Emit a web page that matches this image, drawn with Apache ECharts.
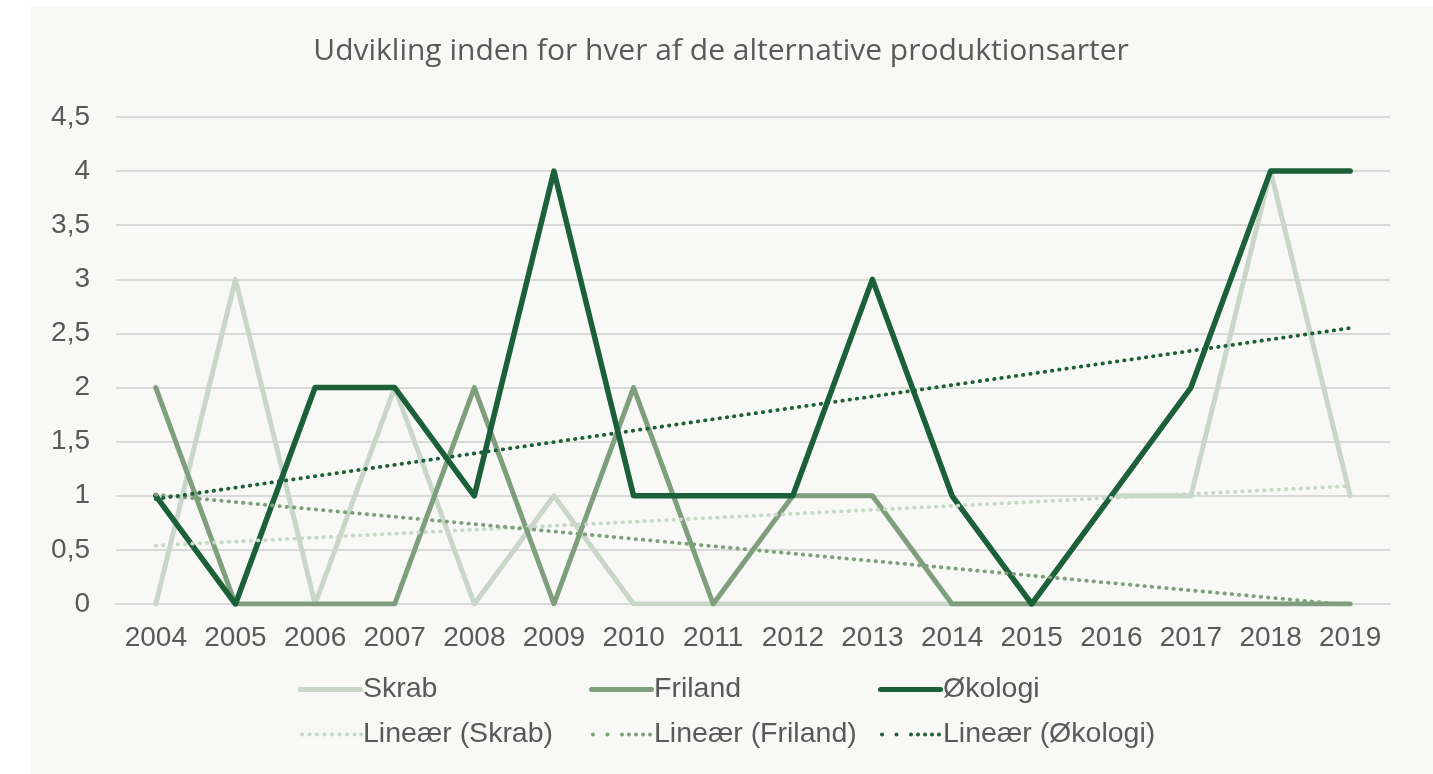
<!DOCTYPE html>
<html><head><meta charset="utf-8">
<script src="https://cdn.jsdelivr.net/npm/echarts@6/dist/echarts.min.js"></script>
<style>html,body{margin:0;padding:0;background:#fff;}#c{width:1433px;height:774px;}</style>
</head><body><div id="c"></div>
<script>
const years = ['2004','2005','2006','2007','2008','2009','2010','2011','2012','2013','2014','2015','2016','2017','2018','2019'];
const skrab   = [0,3,0,2,0,1,0,0,0,0,0,0,1,1,4,1];
const friland = [2,0,0,0,2,0,2,0,1,1,0,0,0,0,0,0];
const oekologi= [1,0,2,2,1,4,1,1,1,3,1,0,1,2,4,4];
// trend line end points (first year, last year)
const skrabTrend   = [0.54, 1.09];
const frilandTrend = [1.01, -0.01];
const oekologiTrend= [0.97, 2.55];
const yTicks = [0,0.5,1,1.5,2,2.5,3,3.5,4,4.5];

function ends(p){ const a = years.map(()=>null); a[0]=p[0]; a[a.length-1]=p[1]; return a; }

const cSk='#c9d7c8', cFr='#7f9f7c', cOk='#1b6038';
const txt='#595959';
const font='Liberation Sans, Arial, sans-serif';

// legend icons (path, drawn in a 65x5 box)
function dotsPath(xs){ return 'path://' + xs.map(x=>`M${x},2.5a2,2 0 1,0 4,0a2,2 0 1,0 -4,0Z`).join(' ') + ' M0,0 M65,5'; }
const solidIcon = 'path://M2.5,0H62.5A2.5,2.5 0 0 1 62.5,5H2.5A2.5,2.5 0 0 1 2.5,0Z';
const evenDots = dotsPath([2,9.5,17,24.5,32,39.5,47,54.5,61]);
const sparseDots = dotsPath([2,16.5,31,38,45,52,59]);

const chart = echarts.init(document.getElementById('c'), null, {renderer:'canvas'});
const dot = (c,w)=>({color:c,width:w,type:[0.5,6.8],cap:'round'});
const legendBase = {orient:'vertical', top:668, itemWidth:65, itemHeight:5, itemGap:12,
  textStyle:{color:txt, fontSize:28.5, fontFamily:font, lineHeight:33, padding:[0,0,0,-5]}};
chart.setOption({
  backgroundColor:'#ffffff',
  graphic:[{type:'rect', z:-10, shape:{x:30,y:7,width:1403,height:767}, style:{fill:'#f8f8f6'}}],
  title:{text:'Udvikling inden for hver af de alternative produktionsarter', left:716, top:31, textAlign:'center',
    textStyle:{color:txt, fontSize:30, fontWeight:'normal', fontFamily:'Open Sans, sans-serif'}},
  grid:{left:116, right:43, top:117, bottom:170},
  xAxis:{type:'category', data:years, boundaryGap:true,
    axisLine:{lineStyle:{color:'#d9d9d9', width:2}}, axisTick:{show:false},
    axisLabel:{color:txt, fontSize:28, fontFamily:font, margin:20, interval:0, hideOverlap:false}},
  yAxis:{type:'value', min:yTicks[0], max:yTicks[yTicks.length-1], interval:0.5,
    axisLine:{show:false}, axisTick:{show:false},
    splitLine:{lineStyle:{color:'#d9d9d9', width:2}},
    axisLabel:{color:txt, fontSize:28, fontFamily:font, margin:26, formatter:v=>String(v).replace('.',',')}},
  legend:[
    Object.assign({}, legendBase, {left:293, data:[{name:'Skrab',icon:solidIcon},{name:'Lineær (Skrab)',icon:evenDots}]}),
    Object.assign({}, legendBase, {left:584, data:[{name:'Friland',icon:solidIcon},{name:'Lineær (Friland)',icon:sparseDots}]}),
    Object.assign({}, legendBase, {left:873, data:[{name:'Økologi',icon:solidIcon},{name:'Lineær (Økologi)',icon:sparseDots}]})
  ],
  series:[
    {name:'Skrab', type:'line', data:skrab, showSymbol:false, symbol:'none', lineStyle:{color:cSk,width:5,cap:'round',join:'round'}, itemStyle:{color:cSk}, z:2},
    {name:'Friland', type:'line', data:friland, showSymbol:false, symbol:'none', lineStyle:{color:cFr,width:5,cap:'round',join:'round'}, itemStyle:{color:cFr}, z:3},
    {name:'Økologi', type:'line', data:oekologi, showSymbol:false, symbol:'none', lineStyle:{color:cOk,width:5.5,cap:'round',join:'round'}, itemStyle:{color:cOk}, z:4},
    {name:'Lineær (Skrab)', type:'line', data:ends(skrabTrend), connectNulls:true, showSymbol:false, symbol:'none', lineStyle:dot(cSk,3.8), itemStyle:{color:cSk}, z:5},
    {name:'Lineær (Friland)', type:'line', data:ends(frilandTrend), connectNulls:true, showSymbol:false, symbol:'none', lineStyle:dot(cFr,3.8), itemStyle:{color:cFr}, z:5},
    {name:'Lineær (Økologi)', type:'line', data:ends(oekologiTrend), connectNulls:true, showSymbol:false, symbol:'none', lineStyle:dot(cOk,3.8), itemStyle:{color:cOk}, z:6}
  ]
});
</script></body></html>
